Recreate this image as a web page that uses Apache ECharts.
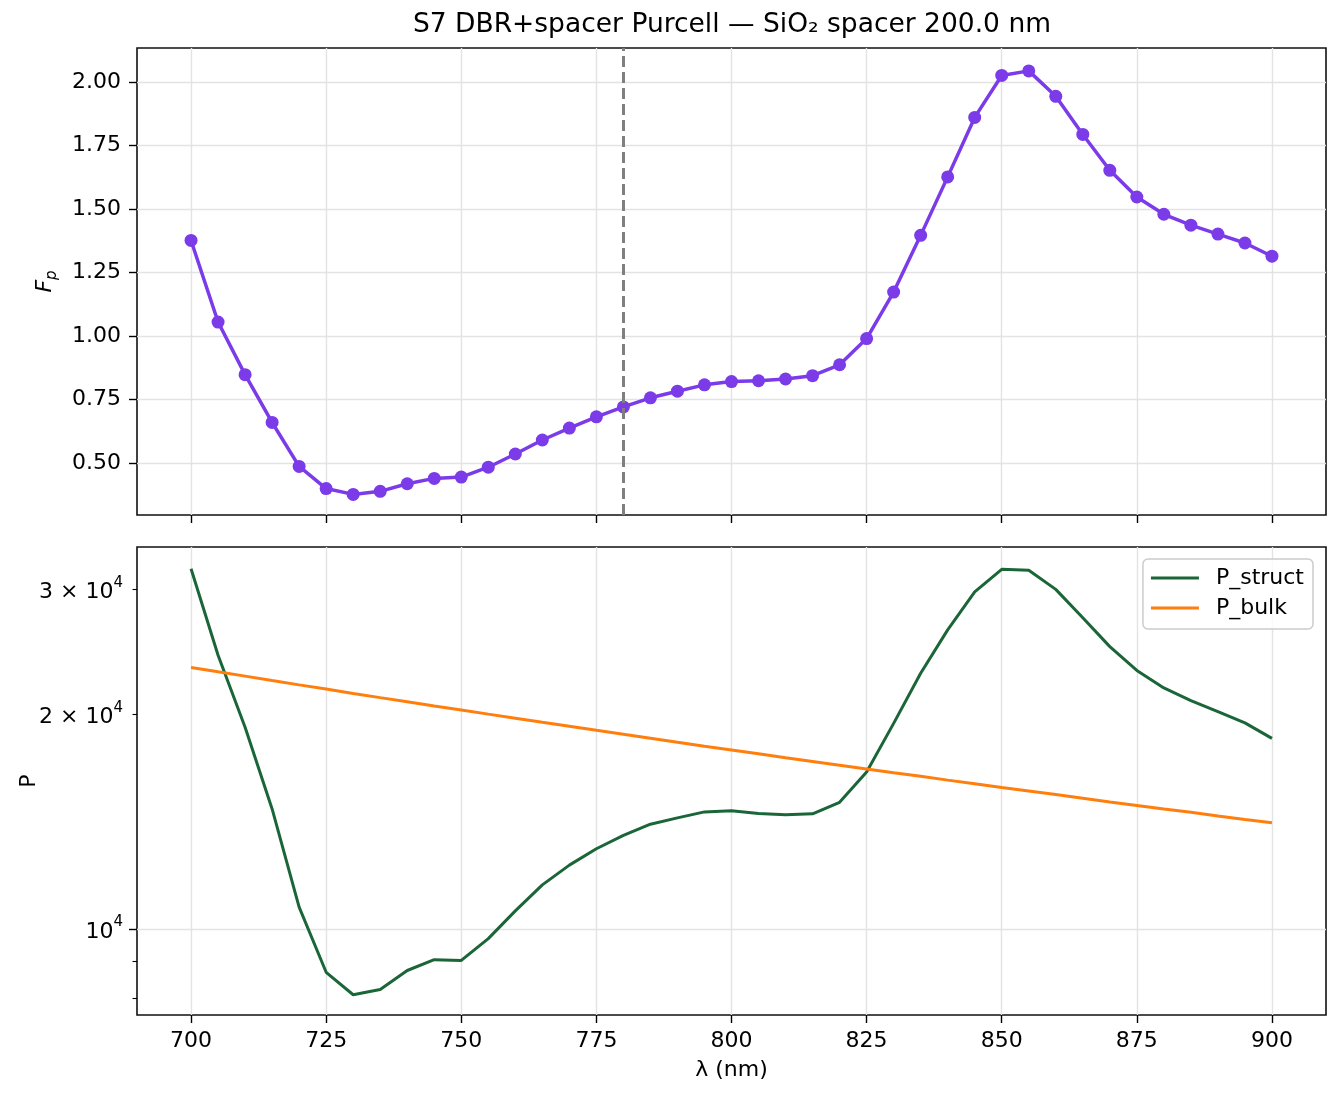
<!DOCTYPE html>
<html>
<head>
<meta charset="utf-8">
<title>S7 DBR+spacer Purcell</title>
<script src="https://cdn.jsdelivr.net/npm/echarts@6/dist/echarts.min.js"></script>
<style>
html, body { margin: 0; padding: 0; background: #fff; }
#chart { width: 1340px; height: 1096px; }
</style>
</head>
<body>
<div id="chart"></div>
<script>
// wavelength grid (nm)
var wavelengths = [700, 705, 710, 715, 720, 725, 730, 735, 740, 745,
    750, 755, 760, 765, 770, 775, 780, 785, 790, 795,
    800, 805, 810, 815, 820, 825, 830, 835, 840, 845,
    850, 855, 860, 865, 870, 875, 880, 885, 890, 895, 900];

// Purcell factor Fp (top panel)
var purcellFactor = [1.376, 1.055, 0.848, 0.660, 0.487, 0.400, 0.377, 0.389, 0.419, 0.440,
    0.445, 0.484, 0.536, 0.591, 0.638, 0.682, 0.721, 0.757, 0.783, 0.808,
    0.821, 0.824, 0.831, 0.844, 0.887, 0.990, 1.173, 1.396, 1.626, 1.860,
    2.025, 2.043, 1.943, 1.793, 1.652, 1.547, 1.479, 1.436, 1.401, 1.366, 1.314];

// emitted power, structured vs bulk (bottom panel, log axis)
var pStruct = [32060, 24230, 19200, 14740, 10730, 8690, 8080, 8220, 8740, 9050,
    9030, 9690, 10600, 11530, 12290, 12960, 13530, 14030, 14320, 14600,
    14650, 14520, 14460, 14510, 15060, 16610, 19440, 22860, 26310, 29740,
    32000, 31910, 29990, 27360, 24920, 23070, 21800, 20930, 20190, 19470, 18520];

var pBulk = [23300, 22970, 22650, 22330, 22020, 21720, 21420, 21130, 20850, 20570,
    20300, 20030, 19770, 19510, 19260, 19010, 18770, 18530, 18290, 18060,
    17840, 17620, 17400, 17190, 16980, 16770, 16570, 16380, 16180, 15990,
    15800, 15620, 15440, 15260, 15080, 14910, 14740, 14580, 14410, 14250, 14100];

var xTicks = [700, 725, 750, 775, 800, 825, 850, 875, 900];
var fpTicks = [0.5, 0.75, 1.0, 1.25, 1.5, 1.75, 2.0];
var pLabelTicks = [10000, 20000, 30000];
var pMinorTicks = [8000, 9000, 20000, 30000];
var pMajorTicks = [10000];
var spacerLine = 780;

var font = 'DejaVu Sans';
var tickColor = '#000';
var gridColor = '#e3e3e3';

var chart = echarts.init(document.getElementById('chart'));

function log10List(list) {
    return list.map(function (v) { return Math.log10(v); });
}

function pairs(ys, useLog) {
    return wavelengths.map(function (w, i) {
        return [w, useLog ? Math.log10(ys[i]) : ys[i]];
    });
}

function xAxisFor(gridIndex) {
    var bottom = gridIndex === 1;
    return {
        type: 'value',
        gridIndex: gridIndex,
        min: 690,
        max: 910,
        name: bottom ? 'λ (nm)' : '',
        nameLocation: 'middle',
        nameGap: 44,
        nameTextStyle: {color: '#000', fontFamily: font, fontSize: 22},
        axisLine: {show: false},
        axisTick: {show: true, length: 8, customValues: xTicks, lineStyle: {color: tickColor, width: 1.4}},
        axisLabel: {show: bottom, customValues: xTicks, margin: 15, color: '#000', fontFamily: font, fontSize: 22},
        splitLine: {show: true, lineStyle: {color: gridColor, width: 1.4}}
    };
}

var pMin = 3.8790, pMax = 4.5365;

var option = {
    animation: false,
    backgroundColor: '#fff',
    title: {
        text: 'S7 DBR+spacer Purcell — SiO₂ spacer 200.0 nm',
        left: 732,
        textAlign: 'center',
        top: 12,
        padding: 0,
        textStyle: {color: '#000', fontFamily: font, fontSize: 26.5, fontWeight: 'normal'}
    },
    legend: {
        data: ['P_struct', 'P_bulk'],
        orient: 'vertical',
        right: 27,
        top: 559,
        padding: [8, 9, 10, 8],
        icon: 'rect',
        itemWidth: 48,
        itemHeight: 3,
        itemGap: 8,
        backgroundColor: 'rgba(255,255,255,0.8)',
        borderColor: '#cccccc',
        borderWidth: 1.5,
        borderRadius: 5,
        textStyle: {color: '#000', fontFamily: font, fontSize: 22, padding: [0, 0, 0, 12]}
    },
    grid: [
        {left: 137, width: 1189, top: 48, height: 467, show: true, borderColor: '#111', borderWidth: 1.6, backgroundColor: 'transparent'},
        {left: 137, width: 1189, top: 547, height: 468, show: true, borderColor: '#111', borderWidth: 1.6, backgroundColor: 'transparent'}
    ],
    xAxis: [xAxisFor(0), xAxisFor(1)],
    yAxis: [
        {
            type: 'value',
            gridIndex: 0,
            min: 0.296,
            max: 2.133,
            name: '{f|F}{s|p}',
            nameLocation: 'middle',
            nameGap: 77,
            nameMoveOverlap: false,
            nameTextStyle: {
                rich: {
                    f: {fontFamily: font, fontSize: 22, fontStyle: 'italic', color: '#000', lineHeight: 30, verticalAlign: 'middle'},
                    s: {fontFamily: font, fontSize: 15, fontStyle: 'italic', color: '#000', lineHeight: 30, verticalAlign: 'bottom'}
                }
            },
            axisLine: {show: false},
            axisTick: {show: true, length: 8, customValues: fpTicks, lineStyle: {color: tickColor, width: 1.4}},
            axisLabel: {
                customValues: fpTicks,
                margin: 16,
                color: '#000',
                fontFamily: font,
                fontSize: 22,
                formatter: function (v) { return v.toFixed(2); }
            },
            splitLine: {show: true, lineStyle: {color: gridColor, width: 1.4}}
        },
        {
            type: 'value',
            gridIndex: 1,
            position: 'left',
            min: pMin,
            max: pMax,
            name: 'P',
            nameLocation: 'middle',
            nameGap: 97,
            nameMoveOverlap: false,
            nameTextStyle: {color: '#000', fontFamily: font, fontSize: 22},
            axisLine: {show: false},
            axisTick: {show: true, length: 4.5, customValues: log10List(pMinorTicks), lineStyle: {color: tickColor, width: 1.1}},
            axisLabel: {
                customValues: log10List(pLabelTicks),
                margin: 14,
                formatter: function (v) {
                    var m = Math.round(Math.pow(10, v) / 10000);
                    return m === 1 ? '{b|10}{e|4}' : '{b|' + m + ' × 10}{e|4}';
                },
                rich: {
                    b: {color: '#000', fontFamily: font, fontSize: 22, lineHeight: 28, verticalAlign: 'bottom'},
                    e: {color: '#000', fontFamily: font, fontSize: 15, lineHeight: 28, verticalAlign: 'top'}
                }
            },
            splitLine: {show: false}
        },
        {
            type: 'value',
            gridIndex: 1,
            position: 'left',
            min: pMin,
            max: pMax,
            axisLine: {show: false},
            axisTick: {show: true, length: 8, customValues: log10List(pMajorTicks), lineStyle: {color: tickColor, width: 1.4}},
            axisLabel: {show: false},
            splitLine: {show: true, lineStyle: {color: gridColor, width: 1.4}}
        }
    ],
    series: [
        {
            name: 'Fp',
            type: 'line',
            xAxisIndex: 0,
            yAxisIndex: 0,
            data: pairs(purcellFactor, false),
            color: '#7b3be8',
            lineStyle: {width: 3.5},
            symbol: 'circle',
            symbolSize: 13,
            z: 3,
            markLine: {
                silent: true,
                symbol: ['none', 'none'],
                label: {show: false},
                lineStyle: {color: '#7f7f7f', type: [11, 5], width: 3},
                data: [{xAxis: spacerLine}]
            }
        },
        {
            name: 'P_struct',
            type: 'line',
            xAxisIndex: 1,
            yAxisIndex: 1,
            data: pairs(pStruct, true),
            color: '#1b6638',
            lineStyle: {width: 3},
            symbol: 'none'
        },
        {
            name: 'P_bulk',
            type: 'line',
            xAxisIndex: 1,
            yAxisIndex: 1,
            data: pairs(pBulk, true),
            color: '#ff7f0e',
            lineStyle: {width: 3},
            symbol: 'none'
        }
    ]
};

chart.setOption(option);
</script>
</body>
</html>
